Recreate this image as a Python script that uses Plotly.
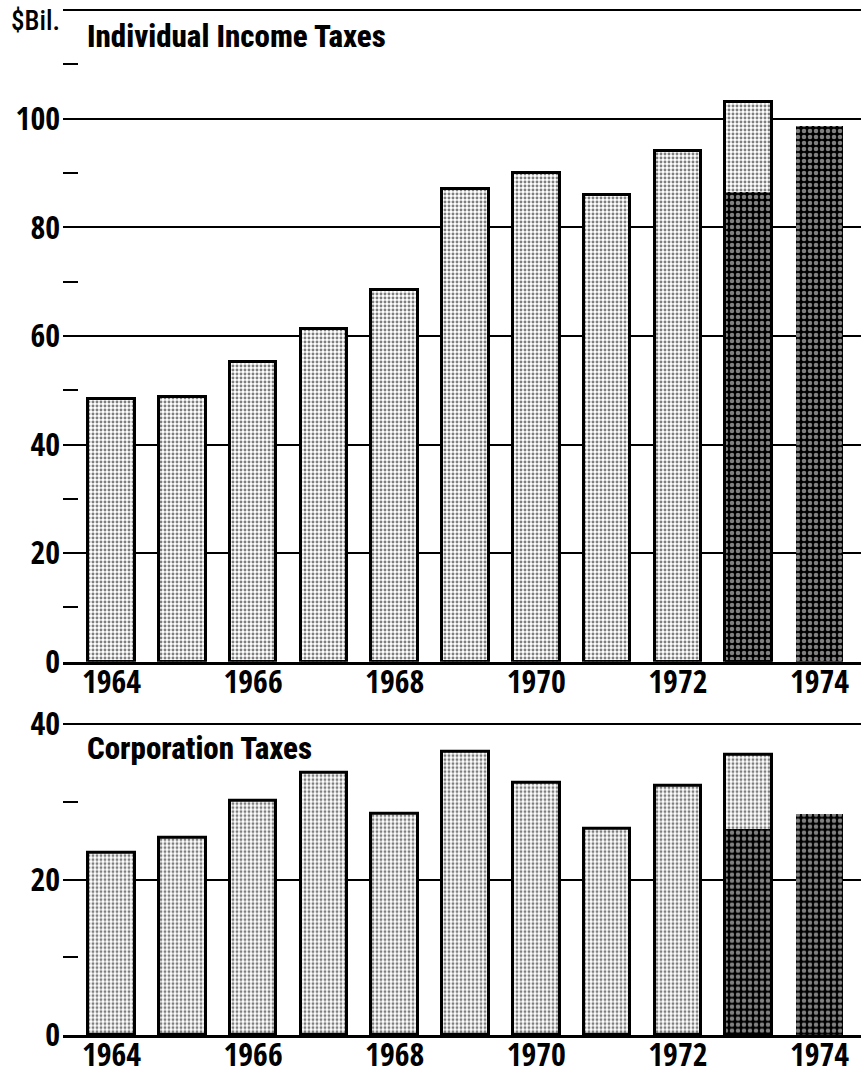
import plotly.graph_objects as go

years = [1964, 1965, 1966, 1967, 1968, 1969, 1970, 1971, 1972, 1973, 1974]
ind_total = [48.3, 48.8, 55.2, 61.2, 68.4, 87.0, 90.1, 85.9, 94.1, 103.1, 98.7]
ind_dark = [None, None, None, None, None, None, None, None, None, 86.6, 98.7]
corp_total = [23.5, 25.4, 30.1, 33.8, 28.5, 36.5, 32.5, 26.6, 32.1, 36.1, 28.5]
corp_dark = [None, None, None, None, None, None, None, None, None, 26.6, 28.5]
year_ticks = [1964, 1966, 1968, 1970, 1972, 1974]
ind_ticks = [0, 20, 40, 60, 80, 100, 120]
ind_labels = ["0", "20", "40", "60", "80", "100", ""]
ind_minor = [10, 30, 50, 70, 90, 110]
corp_ticks = [0, 20, 40]
corp_labels = ["0", "20", "40"]
corp_minor = [10, 30]

TFONT = "Roboto Condensed, DejaVu Sans Condensed, sans-serif"
NFONT = "Open Sans Condensed, Roboto Condensed, sans-serif"
BW = 0.66

light = dict(color="white", line=dict(width=0),
             pattern=dict(shape=".", fgcolor="black", bgcolor="white",
                          size=4, solidity=0.42, fillmode="overlay"))
dark = dict(color="black", line=dict(width=0),
            pattern=dict(shape=".", fgcolor="white", bgcolor="black",
                         size=6, solidity=0.45, fillmode="overlay"))
outline = dict(color="rgba(0,0,0,0)", line=dict(color="black", width=3))

fig = go.Figure()
for tot, drk, xa, ya in [(ind_total, ind_dark, "x", "y"), (corp_total, corp_dark, "x2", "y2")]:
    fig.add_trace(go.Bar(x=years[:10], y=tot[:10], width=BW, marker=light,
                         xaxis=xa, yaxis=ya, showlegend=False, hoverinfo="skip"))
    fig.add_trace(go.Bar(x=years[9:], y=drk[9:], width=BW, marker=dark,
                         xaxis=xa, yaxis=ya, showlegend=False, hoverinfo="skip"))
    fig.add_trace(go.Bar(x=years[:10], y=tot[:10], width=BW, marker=outline,
                         xaxis=xa, yaxis=ya, showlegend=False, hoverinfo="skip"))

xr = [1963.315, 1974.586]
xcommon = dict(range=xr, tickvals=year_ticks, ticks="", ticklen=0, showgrid=False, zeroline=False,
               showline=True, linecolor="black", linewidth=3, automargin=False,
               tickfont=dict(family=NFONT, size=32, color="black", weight="bold"),
               ticklabelstandoff=-10)
ycommon = dict(showgrid=True, gridcolor="black", gridwidth=1.5, zeroline=False,
               ticks="", ticklen=0, showline=False, automargin=False,
               tickfont=dict(family=NFONT, size=32, color="black", weight="bold"),
               ticklabelstandoff=2)

fig.update_layout(
    width=861, height=1074,
    margin=dict(l=63, r=0, t=8, b=39),
    paper_bgcolor="white", plot_bgcolor="white",
    barmode="overlay", bargap=0,
    xaxis=dict(anchor="y", **xcommon),
    xaxis2=dict(anchor="y2", matches="x", **xcommon),
    yaxis=dict(domain=[0.3635, 1.0], range=[0, 120.4], tickvals=ind_ticks, ticktext=ind_labels,
               minor=dict(tickmode="array", tickvals=ind_minor, ticks="inside", ticklen=15,
                          tickwidth=2, tickcolor="black", showgrid=False),
               **ycommon),
    yaxis2=dict(domain=[0, 0.3051], range=[0, 40.3], tickvals=corp_ticks, ticktext=corp_labels,
                minor=dict(tickmode="array", tickvals=corp_minor, ticks="inside", ticklen=15,
                           tickwidth=2, tickcolor="black", showgrid=False),
                **ycommon),
    yaxis3=dict(overlaying="y", side="right", range=[0, 120.4], tickvals=ind_minor,
                ticks="inside", ticklen=8, tickwidth=2, tickcolor="black", automargin=False,
                showticklabels=False, showgrid=False, zeroline=False, showline=False),
    yaxis4=dict(overlaying="y2", side="right", range=[0, 40.3], tickvals=corp_minor,
                ticks="inside", ticklen=8, tickwidth=2, tickcolor="black", automargin=False,
                showticklabels=False, showgrid=False, zeroline=False, showline=False),
    annotations=[
        dict(text="$Bil.", xref="paper", yref="paper", x=-0.068, y=0.9873,
             xanchor="left", yanchor="middle", showarrow=False,
             font=dict(family=TFONT, size=27, color="black", weight=500)),
        dict(text="Individual Income Taxes", xref="paper", yref="paper", x=0.027, y=0.9727,
             xanchor="left", yanchor="middle", showarrow=False,
             font=dict(family=TFONT, size=31, color="black", weight=800)),
        dict(text="Corporation Taxes", xref="paper", yref="paper", x=0.027, y=0.279,
             xanchor="left", yanchor="middle", showarrow=False,
             font=dict(family=TFONT, size=31, color="black", weight=800)),
    ],
)

fig.write_html("out.html", config={"displayModeBar": False},
               post_script="document.body.style.margin='0';document.body.style.overflow='hidden';")
